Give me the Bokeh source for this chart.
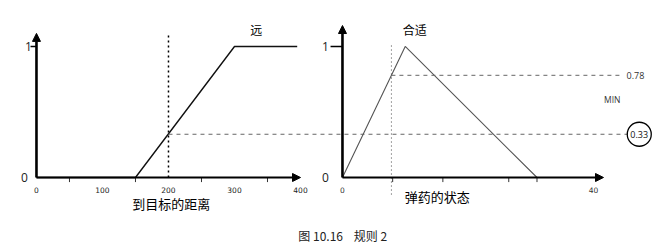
from bokeh.plotting import figure
from bokeh.models import Range1d, Arrow, NormalHead
from bokeh.core.properties import value
from bokeh.embed import file_html
from bokeh.resources import INLINE

# ---- data ----
dist_x = [0, 150, 300, 395]          # 到目标的距离 membership "远"
dist_mu = [0, 0, 1, 1]
ammo_x = [0, 10, 31]                 # 弹药的状态 membership "合适"
ammo_mu = [0, 1, 0]
dist_tick_vals = [0, 100, 200, 300, 400]
dist_tick_labels = ["0", "100", "200", "300", "400"]
dist_minor = [50, 150, 250, 350]
ammo_tick_vals = [0, 40]
ammo_tick_labels = ["0", "40"]
ammo_minor = [8, 16, 26.5, 31]
crisp_dist = 200
crisp_ammo = 7.8
mu_far = 0.33
mu_ok = 0.78

CJK = value("Noto Sans CJK SC")

p = figure(width=667, height=252, x_range=Range1d(-54.5, 956), y_range=Range1d(-0.5725, 1.351),
           output_backend="svg", toolbar_location=None, min_border=0,
           x_axis_location=None, y_axis_location=None)
p.grid.visible = False
p.outline_line_color = None
p.extra_x_ranges = {"ammo": Range1d(-54.5, 51.8)}
R = "ammo"

# ---- left chart ----
p.line(dist_x, dist_mu, line_color="#111111", line_width=1.4)
p.add_layout(Arrow(end=NormalHead(size=8, fill_color="black", line_color="black"),
                   x_start=0, y_start=0, x_end=0, y_end=1.10, line_width=2.6, line_color="black"))
p.add_layout(Arrow(end=NormalHead(size=8, fill_color="black", line_color="black"),
                   x_start=0, y_start=0, x_end=400, y_end=0, line_width=2.2, line_color="black"))
p.segment(x0=dist_minor, y0=[0]*4, x1=dist_minor, y1=[-0.035]*4, line_color="#333333", line_width=1)
p.segment(x0=[-9], y0=[1], x1=[0], y1=[1], line_color="black", line_width=1.5)
p.text(x=dist_tick_vals, y=[0]*5, text=dist_tick_labels, text_font=value("DejaVu Sans"),
       text_font_size="7.5px", text_align="center", text_baseline="middle", y_offset=13, text_color="#222222")
p.text(x=[0, 0], y=[1, 0], text=["1", "0"], text_font=value("Open Sans"), text_font_size="12px",
       text_align="center", text_baseline="middle", x_offset=[-8, -12], text_color="#222222")
p.segment(x0=[crisp_dist], y0=[0], x1=[crisp_dist], y1=[1.09], line_color="black", line_width=1.5,
          line_dash="2 3")
p.text(x=[333], y=[1.13], text=["远"], text_font=CJK, text_font_size="12px",
       text_align="center", text_baseline="middle")
p.text(x=[204], y=[-0.2], text=["到目标的距离"], text_font=CJK, text_font_size="13px",
       text_align="center", text_baseline="middle")

# shared 0.33 dashed line, from the left chart's crisp input to the MIN result
p.segment(x0=[crisp_dist], y0=[mu_far], x1=[895], y1=[mu_far], line_color="#666666", line_width=1,
          line_dash="4 4")

# ---- right chart ----
p.line(ammo_x, ammo_mu, line_color="#555555", line_width=1.1, x_range_name=R)
p.add_layout(Arrow(end=NormalHead(size=8, fill_color="black", line_color="black"),
                   x_start=0, y_start=0, x_end=0, y_end=1.16, line_width=2.6, line_color="black",
                   x_range_name=R))
p.add_layout(Arrow(end=NormalHead(size=8, fill_color="black", line_color="black"),
                   x_start=0, y_start=0, x_end=41.6, y_end=0, line_width=2.2, line_color="black",
                   x_range_name=R))
p.segment(x0=ammo_minor, y0=[0]*4, x1=ammo_minor, y1=[-0.035]*4, line_color="#333333", line_width=1,
          x_range_name=R)
p.segment(x0=[-1.9], y0=[1], x1=[0], y1=[1], line_color="black", line_width=1.5, x_range_name=R)
p.text(x=ammo_tick_vals, y=[0, 0], text=ammo_tick_labels, text_font=value("DejaVu Sans"),
       text_font_size="7.5px", text_align="center", text_baseline="middle", y_offset=13,
       text_color="#333333", x_range_name=R)
p.text(x=[0, 0], y=[1, 0], text=["1", "0"], text_font=value("Open Sans"), text_font_size="12px",
       text_align="center", text_baseline="middle", x_offset=[-17, -17], text_color="#222222",
       x_range_name=R)
p.segment(x0=[crisp_ammo], y0=[-0.13], x1=[crisp_ammo], y1=[1.02], line_color="#444444", line_width=1,
          line_dash="1 3", x_range_name=R)
p.segment(x0=[crisp_ammo], y0=[mu_ok], x1=[44.3], y1=[mu_ok], line_color="#666666", line_width=1,
          line_dash="4 4", x_range_name=R)
p.text(x=[11.5], y=[1.13], text=["合适"], text_font=CJK, text_font_size="12px",
       text_align="center", text_baseline="middle", x_range_name=R)
p.text(x=[15.1], y=[-0.145], text=["弹药的状态"], text_font=CJK, text_font_size="13px",
       text_align="center", text_baseline="middle", x_range_name=R)
p.text(x=[46.7], y=[mu_ok], text=["0.78"], text_font=value("Open Sans"), text_font_size="9px",
       text_align="center", text_baseline="middle", text_color="#333333", x_range_name=R)
p.text(x=[43.0], y=[0.595], text=["MIN"], text_font=value("Open Sans"), text_font_size="8.5px",
       text_align="center", text_baseline="middle", text_color="#333333", x_range_name=R)
p.text(x=[47.3], y=[mu_far], text=["0.33"], text_font=value("Open Sans"), text_font_size="9px",
       text_align="center", text_baseline="middle", text_color="#111111", x_range_name=R)
p.scatter(x=[47.3], y=[mu_far], marker="circle", size=24, fill_color=None, line_color="black",
          line_width=1.3, x_range_name=R)

# caption
p.text(x=[464], y=[-0.443], text=["图 10.16\u00a0\u00a0\u00a0\u00a0规则 2"], text_font=CJK,
       text_font_size="12px", text_align="center", text_baseline="middle", text_color="#222222")

open("out.html", "w").write(file_html(p, INLINE))
